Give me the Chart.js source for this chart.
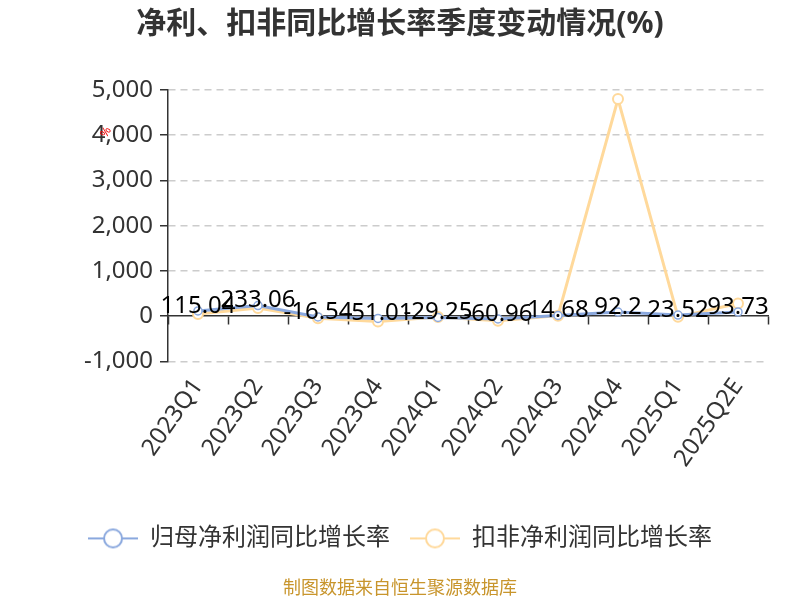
<!DOCTYPE html>
<html>
<head>
<meta charset="utf-8">
<script src="https://cdn.jsdelivr.net/npm/chart.js@4.4.1/dist/chart.umd.min.js"></script>
<style>
  html, body { margin: 0; padding: 0; background: #fff; }
  #wrap { width: 800px; height: 600px; position: relative; }
</style>
</head>
<body>
<div id="wrap"><canvas id="rateChart" width="800" height="600"></canvas></div>
<script>
// ==========================
// DATA
// ==========================
const quarters = ['2023Q1', '2023Q2', '2023Q3', '2023Q4', '2024Q1', '2024Q2', '2024Q3', '2024Q4', '2025Q1', '2025Q2E'];
const netProfitYoY = [115.04, 233.06, -16.54, -51.01, -29.25, -60.96, 14.68, 92.2, 23.52, 93.73];
const deductedYoY = [50, 180, -45, -120, -20, -100, 10, 4800, -15, 280];
const yTicks = [-1000, 0, 1000, 2000, 3000, 4000, 5000];

const FONT = '"Noto Sans", "Noto Sans CJK SC", sans-serif';
const BLUE = '#8aa8de';
const YELLOW = '#ffd99b';

// legend marker: line with hollow circle
function legendMarker(color) {
    const c = document.createElement('canvas');
    c.width = 50; c.height = 22;
    const g = c.getContext('2d');
    g.strokeStyle = color;
    g.lineWidth = 2;
    g.beginPath(); g.moveTo(0, 11); g.lineTo(50, 11); g.stroke();
    g.fillStyle = '#fff';
    g.beginPath(); g.arc(25, 11, 9, 0, Math.PI * 2); g.fill(); g.stroke();
    return c;
}

// value labels for the first series + small red axis unit
const labelPlugin = {
    id: 'valueLabels',
    afterDatasetsDraw(chart) {
        const ctx = chart.ctx;
        const meta = chart.getDatasetMeta(0);
        ctx.save();
        ctx.font = '24px ' + FONT;
        ctx.fillStyle = '#000';
        ctx.textAlign = 'center';
        ctx.textBaseline = 'middle';
        meta.data.forEach((pt, i) => {
            ctx.fillText(String(netProfitYoY[i]), pt.x, pt.y - 5);
        });
        // tiny red unit mark near the y axis
        const y = chart.scales.y;
        ctx.translate(chart.chartArea.left - 62, y.getPixelForValue(4000) - 3);
        ctx.rotate(-Math.PI / 3);
        ctx.font = '12px ' + FONT;
        ctx.fillStyle = '#e00';
        ctx.fillText('%', 0, 0);
        ctx.restore();
    }
};

new Chart(document.getElementById('rateChart'), {
    type: 'line',
    data: {
        labels: quarters,
        datasets: [{
            label: '归母净利润同比增长率',
            data: netProfitYoY,
            borderColor: BLUE,
            backgroundColor: '#fff',
            borderWidth: 3,
            pointRadius: 4,
            pointBorderWidth: 1.5,
            pointBorderColor: BLUE,
            pointBackgroundColor: '#fff',
            tension: 0
        }, {
            label: '扣非净利润同比增长率',
            data: deductedYoY,
            borderColor: YELLOW,
            backgroundColor: '#fff',
            borderWidth: 3,
            pointRadius: 5,
            pointBorderWidth: 2,
            pointBorderColor: YELLOW,
            pointBackgroundColor: '#fff',
            tension: 0
        }]
    },
    options: {
        responsive: false,
        animation: false,
        layout: { padding: { left: 16, right: 16, top: 0, bottom: 0 } },
        scales: {
            x: {
                type: 'category',
                offset: true,
                grid: { display: false },
                border: { display: false },
                afterFit(scale) { scale.height = 145; },
                ticks: {
                    color: '#333',
                    font: { family: FONT, size: 24 },
                    minRotation: 55,
                    maxRotation: 55,
                    padding: 4
                }
            },
            x0: {
                type: 'category',
                position: { y: 0 },
                offset: true,
                grid: {
                    offset: true,
                    drawOnChartArea: false,
                    tickLength: 8,
                    tickColor: '#333',
                    tickWidth: 1.5
                },
                border: { color: '#333', width: 1.5 },
                ticks: { display: false }
            },
            y: {
                min: -1000,
                max: 5000,
                afterBuildTicks(scale) {
                    scale.ticks = yTicks.map(v => ({ value: v }));
                },
                afterFit(scale) { scale.width = 152; },
                grid: {
                    color: ctx => ctx.tick && ctx.tick.value === 0 ? 'rgba(0,0,0,0)' : '#cccccc',
                    lineWidth: 1.5,
                    tickLength: 8,
                    tickColor: '#333',
                    tickWidth: 1.5
                },
                border: { color: '#333', width: 1.5, dash: [7, 5] },
                ticks: {
                    color: '#333',
                    padding: 7,
                    font: { family: FONT, size: 24 },
                    callback: v => v.toLocaleString('en-US')
                }
            },
            // empty spacer on the right so the plot ends at the same place
            yR: {
                position: 'right',
                min: 0,
                max: 1,
                grid: { display: false },
                border: { display: false },
                ticks: { display: false },
                afterFit(scale) { scale.width = 16; }
            }
        },
        plugins: {
            title: {
                display: true,
                text: '净利、扣非同比增长率季度变动情况(%)',
                color: '#333',
                font: { family: FONT, size: 30, weight: 'bold' },
                padding: { top: 6, bottom: 48 }
            },
            subtitle: {
                display: true,
                position: 'bottom',
                text: '制图数据来自恒生聚源数据库',
                color: '#c8952c',
                font: { family: FONT, size: 18 },
                padding: { top: 18, bottom: 0 }
            },
            legend: {
                position: 'bottom',
                labels: {
                    color: '#333',
                    font: { family: FONT, size: 24 },
                    usePointStyle: true,
                    pointStyleWidth: 50,
                    padding: 20,
                    generateLabels(chart) {
                        return chart.data.datasets.map((ds, i) => ({
                            text: ds.label,
                            pointStyle: legendMarker(ds.borderColor),
                            fontColor: '#333',
                            strokeStyle: ds.borderColor,
                            fillStyle: '#fff',
                            lineWidth: 0,
                            datasetIndex: i,
                            hidden: false
                        }));
                    }
                }
            },
            tooltip: { enabled: false }
        }
    },
    plugins: [labelPlugin]
});
</script>
</body>
</html>
